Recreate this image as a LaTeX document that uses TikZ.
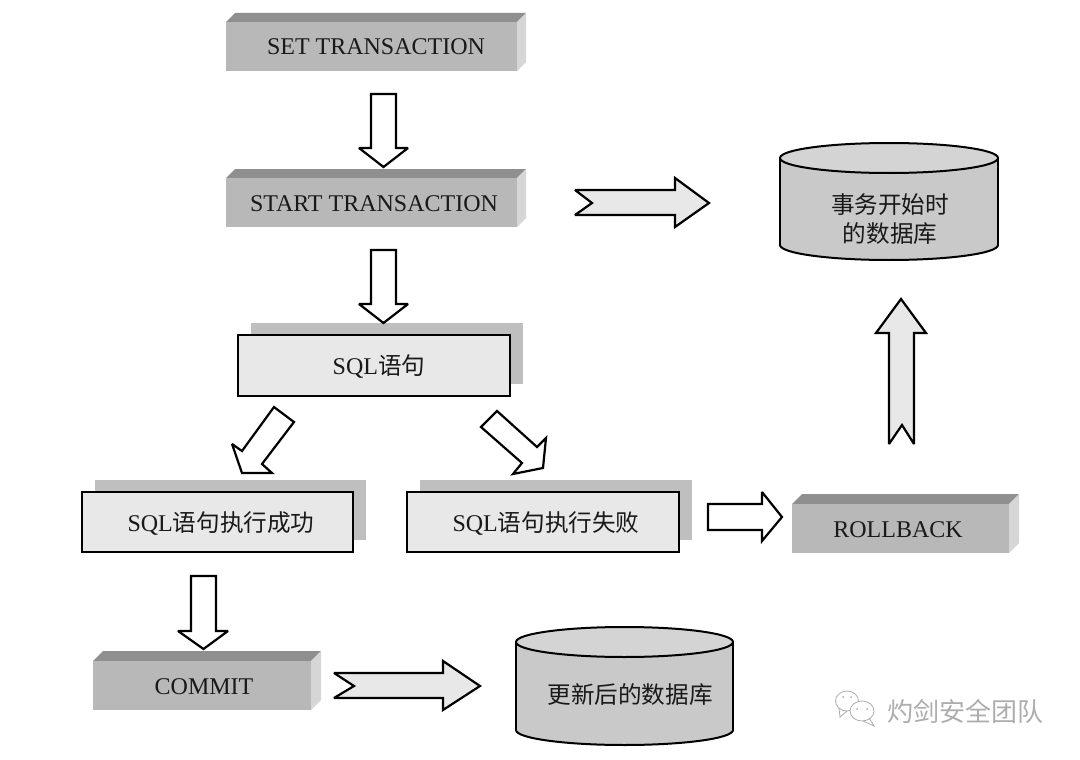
\documentclass[tikz,border=0pt]{standalone}
\usepackage{fontspec}
\setmainfont{Liberation Serif}
\newfontfamily\cjk{Noto Sans CJK SC}
\newcommand{\zh}[1]{{\cjk\fontsize{23.6}{27}\selectfont #1}}
\usetikzlibrary{calc}
\definecolor{fronta}{gray}{0.72}
\definecolor{topa}{gray}{0.56}
\definecolor{sidea}{gray}{0.84}
\definecolor{lightbox}{gray}{0.91}
\definecolor{shadowa}{gray}{0.75}
\definecolor{cylbody}{gray}{0.79}
\definecolor{cyltop}{gray}{0.83}
\definecolor{inka}{gray}{0.1}
\definecolor{wm}{gray}{0.68}
\tikzset{
  lbl/.style={font=\fontsize{24}{28}\selectfont, text=inka, inner sep=0pt},
  arrowopen/.style={draw=black, line width=2.2pt, fill=white, line join=miter, miter limit=3},
  arrowgray/.style={draw=black, line width=2.2pt, fill=lightbox, line join=miter, miter limit=3},
  frontbox/.style={draw=black, line width=2.3pt, fill=lightbox},
  cyl/.style={draw=black, line width=2pt},
}
% 3D bar: name, x0,y0,x1,y1 of the front face, depth
\newcommand{\barbox}[6]{%
  \fill[topa] (#2,#3) -- (#2+#6,#3-#6) -- (#4+#6,#3-#6) -- (#4,#3) -- cycle;
  \fill[sidea] (#4,#3) -- (#4+#6,#3-#6) -- (#4+#6,#5-#6) -- (#4,#5) -- cycle;
  \fill[fronta] (#2,#3) rectangle (#4,#5);
}
\newcommand{\shbox}[5]{%
  \fill[shadowa] (#2+13,#3-12) rectangle (#4+13,#5-12);
  \draw[frontbox] (#2,#3) rectangle (#4,#5);
}
% cylinder: x0, x1, ytop (side start), ybottom (side end), ry
\newcommand{\cylinder}[5]{%
  \draw[cyl, fill=cylbody] ({(#1+#2)/2},#4) ellipse[x radius={(#2-#1)/2},y radius=#5];
  \fill[cylbody] (#1,#3) rectangle (#2,#4);
  \draw[cyl] (#1,#3) -- (#1,#4) (#2,#3) -- (#2,#4);
  \draw[cyl, fill=cyltop] ({(#1+#2)/2},#3) ellipse[x radius={(#2-#1)/2},y radius=#5];
}
\begin{document}
\begin{tikzpicture}[x=1pt,y=-1pt]
\useasboundingbox (0,0) rectangle (1080,760);
\fill[white] (0,0) rectangle (1080,760);

\barbox{set}{226}{22}{517}{71}{9}
\node[lbl] (set) at (376,47) {SET TRANSACTION};
\barbox{start}{226}{178}{517}{227}{9}
\node[lbl] (start) at (374,204) {START TRANSACTION};
\barbox{rollback}{792}{504}{1009}{553}{10}
\node[lbl] (rollback) at (898,530) {ROLLBACK};
\barbox{commit}{93}{661}{311}{710}{10}
\node[lbl] (commit) at (204,687) {COMMIT};

\shbox{sqlc}{238}{335}{510}{396}{}
\node[lbl] (sql) at (379,367) {SQL\zh{语句}};
\shbox{okc}{82}{492}{353}{552}{}
\node[lbl] (ok) at (221,524) {SQL\zh{语句执行成功}};
\shbox{failc}{407}{492}{679}{552}{}
\node[lbl] (fail) at (546,524) {SQL\zh{语句执行失败}};

\cylinder{780}{998}{158}{245}{15}
\node[lbl] (dbatext) at (890,205) {\zh{事务开始时}};
\node[lbl] (dbatext2) at (890,234) {\zh{的数据库}};
\cylinder{516}{733}{642}{730}{15}
\node[lbl] (dbbtext) at (630,695) {\zh{更新后的数据库}};

% block arrows
\draw[arrowopen] (371,94) -- (396,94) -- (396,148) -- (408,148) -- (383.5,167) -- (359,148) -- (371,148) -- cycle;
\draw[arrowopen] (371,250) -- (396,250) -- (396,304) -- (408,304) -- (383.5,323) -- (359,304) -- (371,304) -- cycle;
\draw[arrowopen] (274,407) -- (294,422) -- (262,464) -- (272,473) -- (242,473) -- (232,444) -- (242,451) -- cycle;
\draw[arrowopen] (497,411) -- (481,427) -- (522,463) -- (513,474) -- (543,468) -- (546,438) -- (537,447) -- cycle;
\draw[arrowopen] (708,504) -- (762,504) -- (762,492) -- (782,517) -- (762,541) -- (762,530) -- (708,530) -- cycle;
\draw[arrowopen] (191,576) -- (216,576) -- (216,631) -- (228,631) -- (203.5,649) -- (178,631) -- (191,631) -- cycle;
\draw[arrowgray] (575,190) -- (592,203) -- (575,215) -- (675,215) -- (675,227) -- (709,203) -- (675,178) -- (675,190) -- cycle;
\draw[arrowgray] (889,444) -- (902,425) -- (914,444) -- (914,333) -- (926,333) -- (901,299) -- (876,333) -- (889,333) -- cycle;
\draw[arrowgray] (334,673) -- (354,686) -- (334,698) -- (443,698) -- (443,710) -- (480,686) -- (443,661) -- (443,673) -- cycle;

% watermark
\draw[wm, line width=0.8pt, fill=white] (847,701) ellipse[x radius=11.5,y radius=10];
\draw[wm, line width=0.8pt] (839,708) -- (840,717) -- (847,711);
\draw[wm, line width=0.8pt, fill=white] (862,711) ellipse[x radius=12,y radius=10];
\draw[wm, line width=0.8pt] (869,718) -- (874,726) -- (863,721);
\fill[wm] (843,697) circle (1) (851,697) circle (1) (857,709) circle (1) (867,709) circle (1);
\node[inner sep=0pt, text=wm, font=\cjk\fontsize{26}{30}\selectfont] (mark) at (965,711) {灼剑安全团队};
\end{tikzpicture}
\end{document}
